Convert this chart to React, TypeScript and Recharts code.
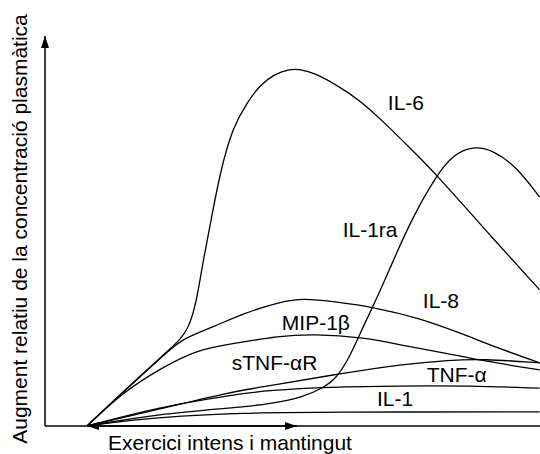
import { LineChart, Line, XAxis, YAxis, ReferenceLine, ReferenceDot } from 'recharts'

/* Resposta de citocines a l'exercici intens i mantingut — esquema qualitatiu.
 * t en minuts (0–60 = exercici), v = augment relatiu (unitats arbitràries). */

type Pt = [number, number]

const T_DOMAIN: [number, number] = [-12, 129.5]
const V_DOMAIN: [number, number] = [0, 10]
const EXERCISE: [number, number] = [0, 60]

const IL6: Pt[] = [
  [0, 0], [12.3, 1.05], [23.7, 1.97], [26.6, 2.21], [28.9, 2.51], [30.3, 2.87], [31.4, 3.28],
  [32.3, 3.74], [33.4, 4.31], [35.1, 5.1], [38.0, 6.49], [41.7, 7.67], [45.7, 8.28], [49.4, 8.74],
  [53.7, 9.03], [58.0, 9.15], [60.9, 9.15], [65.1, 9.05], [71.4, 8.74], [78.0, 8.36], [85.7, 7.72],
  [92.3, 7.13], [100.0, 6.44], [113.1, 5.1], [129.4, 3.49],
]
const IL1RA: Pt[] = [
  [0, 0], [20.9, 0.31], [40.9, 0.46], [52.3, 0.56], [61.7, 0.74], [67.4, 0.97], [71.4, 1.23],
  [75.1, 1.77], [78.9, 2.54], [82.9, 3.28], [87.4, 4.21], [93.1, 5.36], [100.0, 6.44], [104.6, 6.95],
  [110.3, 7.18], [116.0, 7.08], [122.9, 6.64], [129.4, 5.87],
]
const IL8: Pt[] = [
  [0, 0], [12.3, 1.03], [23.7, 1.97], [28.0, 2.26], [36.0, 2.54], [45.7, 2.92], [55.1, 3.18],
  [61.7, 3.28], [71.4, 3.18], [81.7, 3.05], [95.1, 2.77], [107.4, 2.36], [118.9, 1.95], [129.4, 1.62],
]
const MIP1B: Pt[] = [
  [0, 0], [10.3, 0.87], [21.7, 1.51], [31.4, 1.95], [40.9, 2.1], [55.1, 2.31], [64.6, 2.36],
  [78.9, 2.28], [92.3, 2.03], [103.7, 1.85], [113.1, 1.67], [129.4, 1.44],
]
const STNFR: Pt[] = [
  [0, 0], [20.9, 0.44], [40.9, 0.87], [52.3, 1.03], [71.4, 1.33], [90.3, 1.59], [103.7, 1.69],
  [113.1, 1.72], [129.4, 1.62],
]
const TNFA: Pt[] = [
  [0, 0], [20.9, 0.49], [40.9, 0.79], [52.3, 0.92], [69.4, 1.0], [89.4, 1.03], [109.4, 1.03], [129.4, 0.97],
]
const IL1: Pt[] = [
  [0, 0], [12.3, 0.15], [26.6, 0.26], [43.7, 0.33], [66.6, 0.36], [129.4, 0.36],
]

const SERIES: [string, Pt[]][] = [
  ['IL-6', IL6], ['IL-1ra', IL1RA], ['IL-8', IL8], ['MIP-1β', MIP1B],
  ['sTNF-αR', STNFR], ['TNF-α', TNFA], ['IL-1', IL1],
]

// etiqueta, t, v (inici de la línia base del text)
const LABELS: [string, number, number][] = [
  ['IL-6', 86.0, 8.1], ['IL-1ra', 73.1, 4.85], ['IL-8', 96.0, 3.03], ['MIP-1β', 55.7, 2.46],
  ['sTNF-αR', 41.4, 1.44], ['TNF-α', 97.1, 1.13], ['IL-1', 82.9, 0.51],
]

const FONT = '"Liberation Sans", Arial, Helvetica, sans-serif'
const INK = '#000'

const rows = (pts: Pt[]) => pts.map(([t, v]) => ({ t, v }))

function YArrow(p: any) {
  const top = Math.min(p.y1, p.y2)
  const bottom = Math.max(p.y1, p.y2)
  return <line x1={p.x1} y1={bottom} x2={p.x1} y2={top} stroke={INK} strokeWidth={1.5} markerEnd="url(#tip)" />
}

function Span(p: any) {
  const l = Math.min(p.x1, p.x2)
  const r = Math.max(p.x1, p.x2)
  return <line x1={l} y1={p.y1} x2={r} y2={p.y1} stroke={INK} strokeWidth={1.5} markerStart="url(#tip)" markerEnd="url(#tip)" />
}

export default function App() {
  return (
    <div style={{ position: 'absolute', left: 0, top: 0, width: 540, height: 454, background: '#fff', fontFamily: FONT }}>
      <LineChart width={540} height={454} margin={{ top: 36, right: 0, bottom: 28, left: 45 }}>
        <XAxis type="number" dataKey="t" domain={T_DOMAIN} hide allowDataOverflow />
        <YAxis type="number" dataKey="v" domain={V_DOMAIN} hide allowDataOverflow />
        <ReferenceLine y={0} stroke={INK} strokeWidth={1.5} />
        <ReferenceLine x={T_DOMAIN[0]} shape={YArrow} />
        <ReferenceLine segment={[{ x: EXERCISE[0], y: 0 }, { x: EXERCISE[1], y: 0 }]} shape={Span} />
        {SERIES.map(([name, pts]) => (
          <Line
            key={name}
            name={name}
            data={rows(pts)}
            dataKey="v"
            type="basis"
            dot={false}
            activeDot={false}
            stroke={INK}
            strokeWidth={1.3}
            isAnimationActive={false}
          />
        ))}
        {LABELS.map(([text, t, v]) => (
          <ReferenceDot
            key={text}
            x={t}
            y={v}
            r={0}
            shape={(p: any) => (
              <text x={p.cx} y={p.cy} fontSize={21} fontFamily={FONT} fill={INK}>{text}</text>
            )}
          />
        ))}
      </LineChart>
      <svg width={540} height={454} style={{ position: 'absolute', left: 0, top: 0, pointerEvents: 'none' }}>
        <defs>
          <marker id="tip" viewBox="0 0 12 8" refX={12} refY={4} markerWidth={12} markerHeight={8}
            markerUnits="userSpaceOnUse" orient="auto-start-reverse">
            <path d="M0,0 L12,4 L0,8 z" fill={INK} />
          </marker>
        </defs>
        <text x={27} y={229} transform="rotate(-90 27 229)" textAnchor="middle" fontSize={21} fontFamily={FONT} fill={INK}>
          Augment relatiu de la concentració plasmàtica
        </text>
        <text x={108} y={450} fontSize={21} fontFamily={FONT} fill={INK}>Exercici intens i mantingut</text>
      </svg>
    </div>
  )
}
